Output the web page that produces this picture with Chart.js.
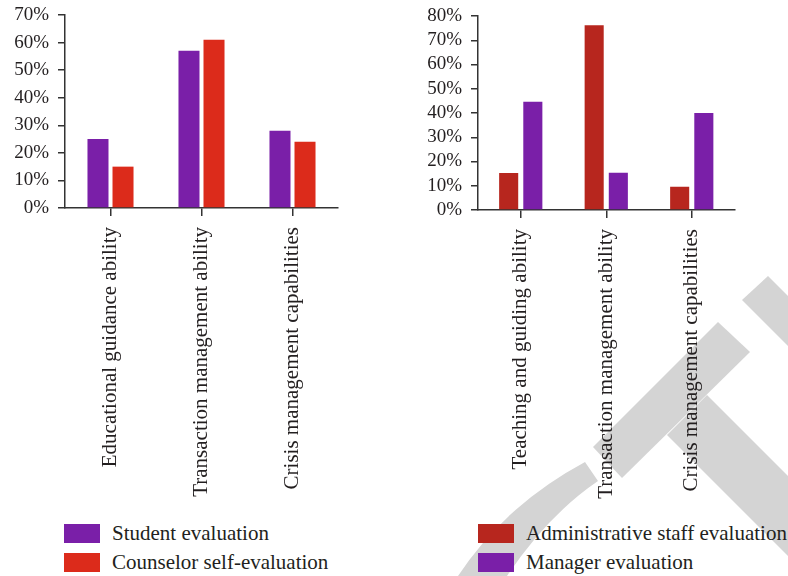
<!DOCTYPE html>
<html>
<head>
<meta charset="utf-8">
<script src="https://cdn.jsdelivr.net/npm/chart.js@4.4.1/dist/chart.umd.min.js"></script>
<style>
  html, body { margin: 0; padding: 0; background: #fff; }
  body { width: 788px; height: 576px; position: relative; overflow: hidden; font-family: 'Liberation Serif', serif; }
  #mark { position: absolute; left: 0; top: 0; }
  .chart-box { position: absolute; top: 0; height: 505px; }
  .legend { position: absolute; margin: 0; padding: 0; list-style: none; font-size: 21px; color: #231f20; white-space: nowrap; }
  .legend li { height: 29px; display: flex; align-items: center; }
  .legend .swatch { width: 36px; height: 19px; margin-right: 12px; }
</style>
</head>
<body>
<svg id="mark" width="788" height="576">
  <g fill="#d4d4d4">
    <path d="M585 462 L598 481 Q548 515 507 576 L458 576 Q505 505 585 462 Z"/>
    <path d="M593 447 L718 322 L750 352 L622 478 Z"/>
    <path d="M707 395 L788 476 L788 556 L667 435 Z"/>
    <path d="M768 276 L788 296 L788 346 L742 300 Z"/>
  </g>
</svg>
<div class="chart-box" style="left:0;width:360px"><canvas id="counselorChart"></canvas></div>
<div class="chart-box" style="left:400px;width:388px"><canvas id="managerChart"></canvas></div>
<ul class="legend" id="counselor-legend" style="left:64px;top:519px"></ul>
<ul class="legend" id="manager-legend" style="left:478px;top:519px"></ul>

<script>
// --- Data ---
const counselorCategories = ['Educational guidance ability', 'Transaction management ability', 'Crisis management capabilities'];
const studentEval = [25, 57, 28];
const counselorSelfEval = [15, 61, 24];
const counselorTicks = [0, 10, 20, 30, 40, 50, 60, 70];

const managerCategories = ['Teaching and guiding ability', 'Transaction management ability', 'Crisis management capabilities'];
const adminStaffEval = [15.3, 76.2, 9.6];
const managerEval = [44.6, 15.4, 40.0];
const managerTicks = [0, 10, 20, 30, 40, 50, 60, 70, 80];

// --- Styles ---
const PURPLE = '#7a1fa8';
const RED = '#dc2b1b';
const DARK_RED = '#b7261e';
const INK = '#231f20';
const AXIS = '#333333';
const FONT = "'Liberation Serif', serif";

Chart.defaults.font.family = FONT;
Chart.defaults.color = INK;

const buildOptions = (ticks, yWidth, xHeight, pad, catPct, barPct) => ({
    responsive: true,
    maintainAspectRatio: false,
    animation: false,
    layout: { padding: pad },
    datasets: { bar: { categoryPercentage: catPct, barPercentage: barPct } },
    plugins: { legend: { display: false }, tooltip: { enabled: false } },
    scales: {
        x: {
            grid: { display: true, offset: false, drawOnChartArea: false, drawTicks: true, tickLength: 8, color: AXIS, lineWidth: 1.5 },
            border: { display: true, color: AXIS, width: 1.5 },
            ticks: { minRotation: 90, maxRotation: 90, autoSkip: false, padding: 11, color: INK, font: { size: 21 } },
            afterFit: (s) => { s.height = xHeight; }
        },
        y: {
            min: ticks[0],
            max: ticks[ticks.length - 1],
            afterBuildTicks: (s) => { s.ticks = ticks.map(v => ({ value: v })); },
            grid: { display: true, drawOnChartArea: false, drawTicks: true, tickLength: 7, color: AXIS, lineWidth: 1.5 },
            border: { display: true, color: AXIS, width: 1.5 },
            ticks: { padding: 9, autoSkip: false, color: INK, font: { size: 19 }, callback: (v) => v + '%' },
            // plot area edges come from layout padding only
            afterFit: (s) => { s.width = yWidth; s.paddingTop = 0; s.paddingBottom = 0; }
        }
    }
});

const renderLegend = (chart, listId) => {
    const list = document.getElementById(listId);
    list.innerHTML = chart.data.datasets.map(ds => `
        <li><span class="swatch" style="background:${ds.backgroundColor}"></span>${ds.label}</li>
    `).join('');
};

// --- Charts ---
const counselorChart = new Chart(document.getElementById('counselorChart'), {
    type: 'bar',
    data: {
        labels: counselorCategories,
        datasets: [
            { label: 'Student evaluation', data: studentEval, backgroundColor: PURPLE },
            { label: 'Counselor self-evaluation', data: counselorSelfEval, backgroundColor: RED }
        ]
    },
    options: buildOptions(counselorTicks, 65, 297, { top: 15, right: 22, left: 0, bottom: 0 }, 0.55, 0.84)
});

const managerChart = new Chart(document.getElementById('managerChart'), {
    type: 'bar',
    data: {
        labels: managerCategories,
        datasets: [
            { label: 'Administrative staff evaluation', data: adminStaffEval, backgroundColor: DARK_RED },
            { label: 'Manager evaluation', data: managerEval, backgroundColor: PURPLE }
        ]
    },
    options: buildOptions(managerTicks, 78, 295, { top: 16, right: 53.5, left: 0, bottom: 0 }, 0.565, 0.79)
});

renderLegend(counselorChart, 'counselor-legend');
renderLegend(managerChart, 'manager-legend');
</script>
</body>
</html>
